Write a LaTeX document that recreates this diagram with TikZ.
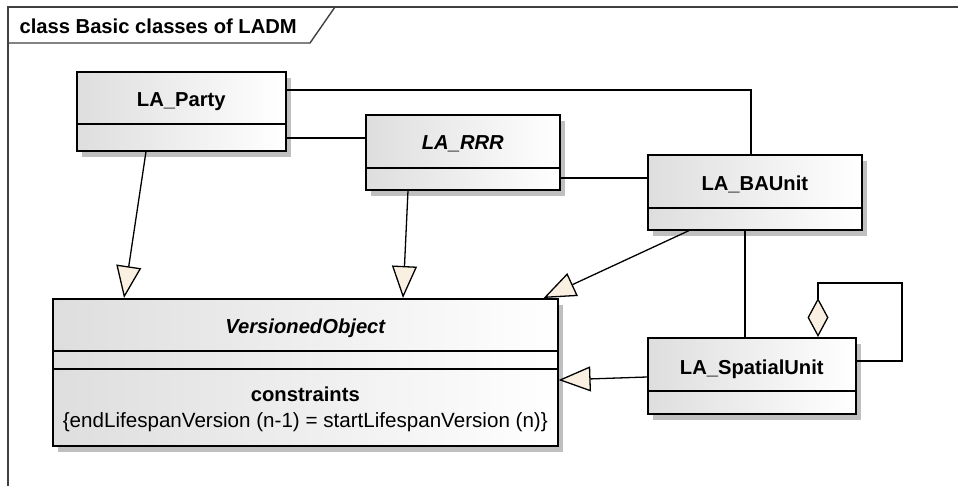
\documentclass[tikz,border=0pt]{standalone}
\usepackage{fontspec}
\setmainfont{Liberation Sans}
\usepackage{tikz}
\definecolor{tipcream}{HTML}{FAF0E2}
\tikzset{classbox/.style={draw=black,line width=1.6pt,anchor=north west,inner sep=0pt,
           left color=black!13,middle color=white,right color=white,
           drop shadow={shadow xshift=5pt,shadow yshift=-6pt,fill=black!25,opacity=1}},
         classname/.style={font=\fontsize{20.2}{24}\selectfont\bfseries},
         abstractname/.style={font=\fontsize{20.2}{24}\selectfont\bfseries\itshape},
         bodytext/.style={font=\fontsize{20.6}{24}\selectfont},
         divider/.style={line width=1.6pt},
         assoc/.style={line width=1.3pt},
         genarrow/.style={line width=1.3pt,-{Triangle[fill=tipcream,length=32pt,width=25pt]}},
         aggr/.style={line width=1.3pt,{Diamond[fill=tipcream,length=39pt,width=21pt]}-}}
\usetikzlibrary{calc}
\usetikzlibrary{shadows}
\usetikzlibrary{arrows.meta}

\begin{document}
\begin{tikzpicture}[x=1pt,y=-1pt]
\useasboundingbox (0,0) rectangle (958,486);
\draw [line width=1.4pt,black!75] (8,486) -- (8,7) -- (958,7);
\draw [line width=1.4pt,black!75] (8,43) -- (310,43) -- (335,7);
\node [classname,anchor=west] (title) at (16,26) {class Basic classes of LADM};

\node [classbox,minimum width=209pt,minimum height=79pt] (party) at (76,71) {};
\node [classbox,minimum width=194pt,minimum height=75pt] (rrr) at (365,114) {};
\node [classbox,minimum width=214pt,minimum height=75pt] (baunit) at (647,154) {};
\node [classbox,minimum width=505pt,minimum height=147pt] (vo) at (52,298) {};
\node [classbox,minimum width=208pt,minimum height=76pt] (spatial) at (647,337) {};

\draw [divider] ($(party.north west)+(0,53)$) -- ($(party.north east)+(0,53)$);
\draw [divider] ($(rrr.north west)+(0,54)$) -- ($(rrr.north east)+(0,54)$);
\draw [divider] ($(baunit.north west)+(0,54)$) -- ($(baunit.north east)+(0,54)$);
\draw [divider] ($(vo.north west)+(0,53)$) -- ($(vo.north east)+(0,53)$);
\draw [divider] ($(vo.north west)+(0,71)$) -- ($(vo.north east)+(0,71)$);
\draw [divider] ($(spatial.north west)+(0,54)$) -- ($(spatial.north east)+(0,54)$);

\node [classname] (partyname) at ($(party.north)+(0,31)$) {LA\_Party};
\node [abstractname] (rrrname) at ($(rrr.north)+(0,30)$) {LA\_RRR};
\node [classname] (baunitname) at ($(baunit.north)+(0,30)$) {LA\_BAUnit};
\node [abstractname] (voname) at ($(vo.north)+(0,30)$) {VersionedObject};
\node [classname] (constrname) at ($(vo.north)+(0,96)$) {constraints};
\node [bodytext] (constrtext) at ($(vo.north)+(0,124)$) {\{endLifespanVersion (n-1) = startLifespanVersion (n)\}};
\node [classname] (spatialname) at ($(spatial.north)+(0,32)$) {LA\_SpatialUnit};

\coordinate (partyout) at ($(party.north east)+(0,19)$);
\coordinate (rrrin) at ($(rrr.north west)+(0,24)$);
\coordinate (bain) at ($(baunit.north west)+(0,24)$);
\coordinate (selfcorner) at (902,283);
\draw [assoc] (partyout) -| ($(baunit.north west)+(104,0)$);
\draw [assoc] (rrrin) -- (rrrin -| party.east);
\draw [assoc] (bain) -- (bain -| rrr.east);
\draw [assoc] ($(baunit.south west)+(98,0)$) -- ($(spatial.north west)+(98,0)$);

\draw [genarrow] ($(party.south west)+(70,0)$) -- ($(vo.north west)+(72,0)$);
\draw [genarrow] ($(rrr.south west)+(43,0)$) -- ($(vo.north west)+(351,0)$);
\draw [genarrow] ($(baunit.south west)+(42,0)$) -- ($(vo.north east)+(-15,0)$);
\draw [genarrow] ($(spatial.north west)+(0,40)$) -- ($(vo.north east)+(0,82)$);

\draw [aggr] ($(spatial.north west)+(171,0)$) |- (selfcorner) |- ($(spatial.north east)+(0,24)$);
\end{tikzpicture}
\end{document}
